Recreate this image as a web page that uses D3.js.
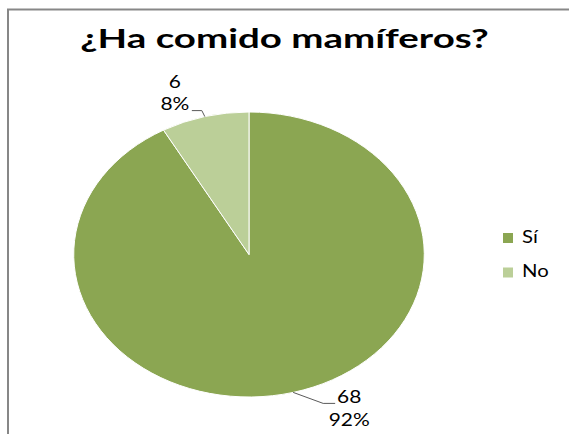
<!DOCTYPE html>
<html>
<head>
<meta charset="utf-8">
<script src="https://cdn.jsdelivr.net/npm/d3@7"></script>
<style>
  html, body { margin: 0; padding: 0; background: #fff; }
  svg { display: block; }
  text { font-family: Lato, "Open Sans", sans-serif; fill: #000; }
</style>
</head>
<body>
<svg id="chart" width="569" height="434"></svg>
<script>
// Survey answers
const categories = ["Sí", "No"];
const counts = [68, 6];
const colors = ["#8BA652", "#BBCF98"];
const title = "¿Ha comido mamíferos?";

const W = 569, H = 434;
const svg = d3.select("#chart");

// chart frame (top and left edges)
svg.append("path")
  .attr("d", `M8,${H} V9.5 H${W}`)
  .attr("fill", "none")
  .attr("stroke", "#878787")
  .attr("stroke-width", 2);

// horizontal stretch of the whole drawing
const sx = 1.23;

// title
svg.append("text")
  .attr("transform", `translate(284.5,48) scale(1.4,1)`)
  .attr("text-anchor", "middle")
  .attr("font-size", 27.5)
  .attr("font-weight", "bold")
  .text(title);

// pie
const cx = 249, cy = 254.5, r = 142.5;
const total = d3.sum(counts);
const data = categories.map((c, i) => ({ cat: c, value: counts[i], color: colors[i] }));
const pie = d3.pie().sort(null).value(d => d.value);
const arcs = pie(data);
const arc = d3.arc().innerRadius(0).outerRadius(r);

const g = svg.append("g").attr("transform", `translate(${cx},${cy}) scale(${sx},1)`);
g.selectAll("path.slice")
  .data(arcs)
  .enter().append("path")
  .attr("class", "slice")
  .attr("d", arc)
  .attr("fill", d => d.data.color)
  .attr("stroke", "#fff")
  .attr("stroke-width", 1)
  .attr("vector-effect", "non-scaling-stroke");

// data labels with leader lines
const pctFmt = d3.format(".0%");
const labelLayout = {
  "No": { elbow: [-3, -6], end: [-13, -6], text: [-30, -29], anchor: "middle" },
  "Sí": { elbow: [30, 11], end: [42, 11], text: [56, 11], anchor: "middle" }
};
arcs.forEach(a => {
  const mid = (a.startAngle + a.endAngle) / 2;
  const ex = cx + Math.sin(mid) * r * sx;
  const ey = cy - Math.cos(mid) * r;
  const L = labelLayout[a.data.cat];
  svg.append("path")
    .attr("d", `M${ex},${ey} L${ex + L.elbow[0]},${ey + L.elbow[1]} L${ex + L.end[0]},${ey + L.end[1]}`)
    .attr("fill", "none")
    .attr("stroke", "#5a5a5a")
    .attr("stroke-width", 1);
  const tx = ex + L.text[0], ty = ey + L.text[1];
  const t = svg.append("text")
    .attr("transform", `translate(${tx},${ty}) scale(${sx},1)`)
    .attr("text-anchor", L.anchor)
    .attr("font-size", 17);
  t.append("tspan").attr("x", 0).attr("dy", 0).text(a.data.value);
  t.append("tspan").attr("x", 0).attr("dy", 22.5).text(pctFmt(a.data.value / total));
});

// legend
const legend = svg.append("g").attr("transform", "translate(503,233)");
const items = legend.selectAll("g.item")
  .data(data)
  .enter().append("g")
  .attr("class", "item")
  .attr("transform", (d, i) => `translate(0,${i * 34.5})`);
items.append("rect")
  .attr("width", 10).attr("height", 10)
  .attr("fill", d => d.color);
items.append("text")
  .attr("transform", `translate(19,9.5) scale(${sx},1)`)
  .attr("font-size", 16.5)
  .text(d => d.cat);
</script>
</body>
</html>
